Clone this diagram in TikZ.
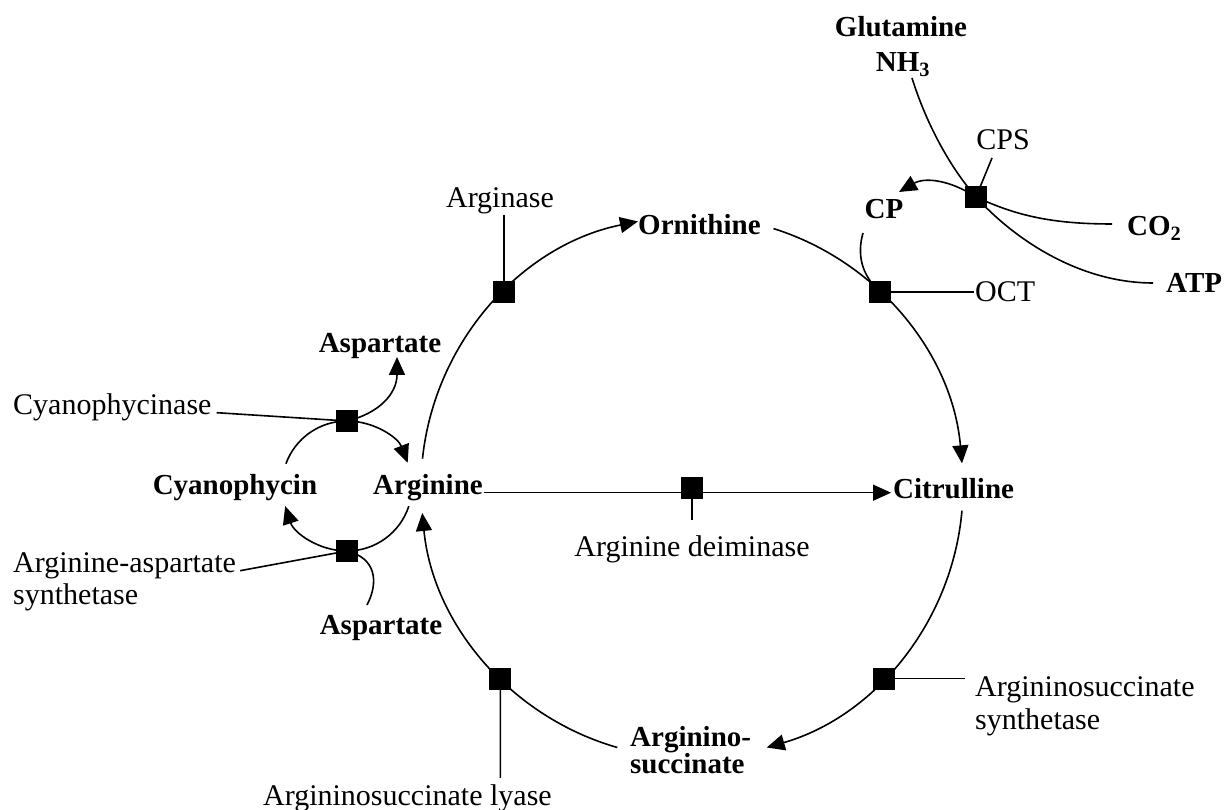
\documentclass[tikz,border=0pt]{standalone}
\usepackage{fontspec}
\setmainfont{Liberation Serif}
\usetikzlibrary{arrows.meta,calc}
\begin{document}
\begin{tikzpicture}[x=1pt,y=1pt,
  lbl/.style={font=\fontsize{30}{32}\selectfont, inner sep=0pt, anchor=base},
  met/.style={font=\fontsize{29}{30}\selectfont\bfseries, inner sep=0pt, anchor=base},
  enz/.style={fill=black, draw=none, minimum size=22pt, inner sep=0pt},
  ln/.style={line width=1.6pt},
  arr/.style={line width=1.6pt, -{Triangle[length=18pt,width=16pt]}},
]
\useasboundingbox (0,0) rectangle (1229,810);
\coordinate (C) at (692,323);
\coordinate (S) at (347,324);

% ---- texts
\node[met] (glut) at (901,773) {Glutamine};
\node[met] (nh3) at (903,738) {NH\textsubscript{3}};
\node[lbl] (cpsl) at (1003,660) {CPS};
\node[met, anchor=base west] (co2) at (1127,574) {CO\textsubscript{2}};
\node[met, anchor=base west] (atp) at (1166,517) {ATP};
\node[met] (cp) at (884,591) {CP};
\node[lbl, anchor=base west] (oct) at (975,508) {OCT};
\node[lbl] (arginase) at (500,602) {Arginase};
\node[met, anchor=base west] (ornithine) at (638,575) {Ornithine};
\node[met] (asptop) at (380,457) {Aspartate};
\node[lbl, anchor=base west] (cyanase) at (13,395) {Cyanophycinase};
\node[met] (cyano) at (235,315) {Cyanophycin};
\node[met, anchor=base west] (arginine) at (373,315) {Arginine};
\node[met, anchor=base west] (citrulline) at (893,311) {Citrulline};
\node[lbl] (deim) at (692,253) {Arginine deiminase};
\node[lbl, anchor=base west] (aas1) at (13,237) {Arginine-aspartate};
\node[lbl, anchor=base west] (aas2) at (13,205) {synthetase};
\node[met] (aspbot) at (381,175) {Aspartate};
\node[lbl, anchor=base west] (lyase) at (263,4) {Argininosuccinate lyase};
\node[lbl, anchor=base west] (ass1) at (975,113) {Argininosuccinate};
\node[lbl, anchor=base west] (ass2) at (975,80) {synthetase};
\node[met, anchor=north west, align=left, font=\fontsize{29}{26}\selectfont\bfseries] (argsucc) at (630,84) {Arginino-\\succinate};

% ---- main cycle coordinates
\coordinate (a1s) at ($(C)+(174:271)$);
\coordinate (a2s) at ($(C)+(72.5:271)$);
\coordinate (a3s) at ($(C)+(-5:271)$);
\coordinate (a4s) at ($(C)+(-106:271)$);

% ---- main cycle arcs
\draw[arr] (a1s) arc[start angle=174, end angle=101.5, radius=271];
\draw[arr] (a2s) arc[start angle=72.5, end angle=5, radius=271];
\draw[arr] (a3s) arc[start angle=-5, end angle=-74, radius=271];
\draw[arr] (a4s) arc[start angle=-106, end angle=-174.5, radius=271];

% ---- enzyme boxes on main cycle
\node[enz] (bArginase) at ($(C)+(134:271)$) {};
\node[enz] (bOCT) at ($(C)+(46:271)$) {};
\node[enz] (bASS) at ($(C)+(-45:271)$) {};
\node[enz] (bLyase) at ($(C)+(-135:271)$) {};
\node[enz] (bDeim) at (692,322) {};
\node[enz] (bCPS) at (976,613) {};

% ---- arginine deiminase
\draw[arr] ([xshift=1pt]arginine.mid east) -- ([xshift=-2pt]arginine.mid east -| citrulline.west);
\coordinate (deimEnd) at (692,290);
\draw[ln] (bDeim.center) -- (deimEnd);

% ---- enzyme label lines
\draw[ln] (bArginase.center) -- (bArginase.center |- arginase.south);
\draw[ln] (bOCT.center) -- ([xshift=-1pt]bOCT.center -| oct.west);
\coordinate (lyaseEnd) at (500.4,32);
\draw[ln] (bLyase.center) -- (lyaseEnd);
\draw[ln] (bASS.center) -- ([xshift=-10pt]bASS.center -| ass1.west);

% ---- CP / CPS
\coordinate (cpStart) at (863,577);
\draw[ln] (cpStart) .. controls (857,556) and (861,535) .. (bOCT.center);
\coordinate (cpsEnd) at (992,652);
\draw[ln] (bCPS.center) -- (cpsEnd);
\coordinate (nh3End) at (912,732);
\draw[ln] (nh3End) .. controls (925,690) and (948,645) .. (bCPS.center);
\coordinate (cpTip) at (899,618);
\draw[arr] (bCPS.center) .. controls (950,630) and (925,633) .. (cpTip);
\coordinate (co2End) at (1112,586);
\draw[ln] (bCPS.center) .. controls (1015,595) and (1050,586) .. (co2End);
\coordinate (atpEnd) at (1153,527);
\draw[ln] (bCPS.center) .. controls (1015,570) and (1080,527) .. (atpEnd);

% ---- small cyanophycin cycle
\node[enz] (bCyTop) at ($(S)+(90:65)$) {};
\node[enz] (bCyBot) at ($(S)+(270:65)$) {};
\coordinate (sc4) at ($(S)+(-18:65)$);
\draw[ln] (bCyTop.center) arc[start angle=90, end angle=160, radius=65];
\draw[arr] (bCyTop.center) arc[start angle=90, end angle=21, radius=65];
\draw[arr] (bCyBot.center) arc[start angle=270, end angle=198, radius=65];
\draw[ln] (sc4) arc[start angle=-18, end angle=-90, radius=65];
\draw[ln] ([xshift=5pt]cyanase.mid east) -- (bCyTop.center);
\draw[ln] ([xshift=4pt]aas1.mid east) -- (bCyBot.center);
\coordinate (aspTopEnd) at (397,453);
\draw[arr] (bCyTop.center) .. controls (377,396) and (397,415) .. (aspTopEnd);
\coordinate (aspBotEnd) at (367,205);
\draw[ln] (bCyBot.center) .. controls (376,252) and (379,228) .. (aspBotEnd);
\end{tikzpicture}
\end{document}
